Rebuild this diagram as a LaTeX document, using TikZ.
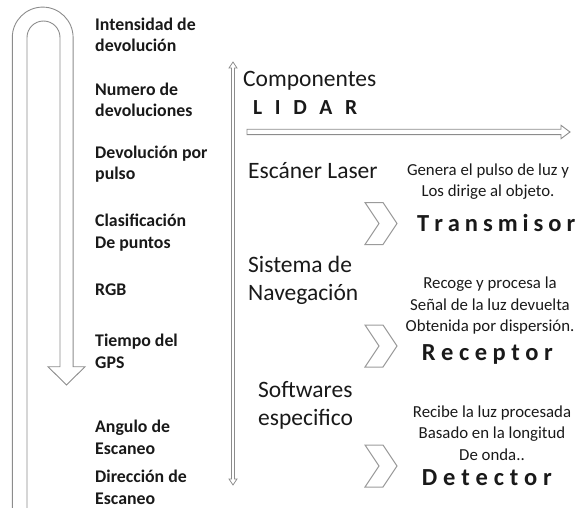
\documentclass[tikz,border=0pt]{standalone}
\usepackage{fontspec}
\setmainfont{Carlito}
\definecolor{arrowgray}{RGB}{140,140,140}
\definecolor{chevgray}{RGB}{155,155,155}
\definecolor{txt}{RGB}{25,25,25}
\tikzset{
  outline/.style={draw=arrowgray, line width=0.9pt, line join=miter},
  chevline/.style={draw=chevgray, line width=1pt, line join=miter},
  leftlbl/.style={font=\fontsize{17.8}{21.3}\selectfont\bfseries, align=left, anchor=base west, inner sep=0pt, text=txt},
  midlbl/.style={font=\fontsize{23.5}{28}\selectfont, align=left, anchor=base west, inner sep=0pt, text=txt},
  desc/.style={font=\fontsize{16.8}{21.5}\selectfont, align=center, anchor=base, inner sep=0pt, text=txt},
  bigbold/.style={font=\fontsize{24.5}{28}\selectfont\bfseries, anchor=base west, inner sep=0pt, text=txt},
  pics/chevron/.style={code={
    \draw[chevline] (-16,21) -- (2,21) -- (16,0) -- (2,-21) -- (-16,-21) -- (-2,0) -- cycle;}}
}
\begin{document}
\begin{tikzpicture}[x=1pt,y=1pt]
\useasboundingbox (0,0) rectangle (578,507);
\begin{scope}
\clip (0,0) rectangle (578,507);
% U-turn arrow
\draw[outline] (12.3,-10) -- (12.3,469.5) arc[start angle=180,end angle=0,radius=30.4]
  -- (73.1,140.3) -- (85,140.3) -- (66.5,122) -- (48,140.3) -- (60,140.3)
  -- (60,469.5) arc[start angle=0,end angle=180,radius=16.5] -- (27,-10);
\end{scope}
% vertical double arrow
\draw[outline, line width=0.8pt] (231.5,28) -- (231.5,439) -- (229,439) -- (233,445) -- (237,439) -- (234.5,439)
  -- (234.5,28) -- (237,28) -- (233,22) -- (229,28) -- cycle;
% horizontal arrow
\draw[outline] (247,377.7) -- (561,377.7) -- (561,381.7) -- (570,375) -- (561,368.3) -- (561,372.3) -- (247,372.3) -- cycle;
% chevrons
\pic at (381,283.5) {chevron};
\pic at (381,161) {chevron};
\pic at (381,41) {chevron};
% left column (anchor = baseline of last line)
\node[leftlbl] (l1) at (95,455.3) {Intensidad de\\devolución};
\node[leftlbl] (l2) at (95,390.3) {Numero de\\devoluciones};
\node[leftlbl] (l3) at (95,327) {Devolución por\\pulso};
\node[leftlbl] (l4) at (95,259) {Clasificación\\De puntos};
\node[leftlbl] (l5) at (95,212) {RGB};
\node[leftlbl] (l6) at (95,139) {Tiempo del\\GPS};
\node[leftlbl] (l7) at (95,53) {Angulo de\\Escaneo};
\node[leftlbl] (l8) at (95,3) {Dirección de\\Escaneo};
% header
\node[midlbl] (comp) at (243,420.3) {Componentes};
\node[bigbold, font=\fontsize{21.5}{24}\selectfont\bfseries] (lidar) at (253,392) {\makebox[104pt][s]{L\hfill I\hfill D\hfill A\hfill R}};
% middle labels
\node[midlbl] (esc) at (248,329) {Escáner Laser};
\node[midlbl] (sis) at (248,207) {Sistema de\\Navegación};
\node[midlbl] (sof) at (258,82) {Softwares\\especifico};
% descriptions
\node[desc] (d1) at (488,310.3) {Genera el pulso de luz y\\Los dirige al objeto.};
\node[desc] (d2) at (490,175.3) {Recoge y procesa la\\Señal de la luz devuelta\\Obtenida por dispersión.};
\node[desc] (d3) at (492,47) {Recibe la luz procesada\\Basado en la longitud\\De onda..};
% component names
\node[bigbold] (tr) at (417,275.3) {\makebox[158pt][s]{T\hfill r\hfill a\hfill n\hfill s\hfill m\hfill i\hfill s\hfill o\hfill r}};
\node[bigbold] (re) at (421.7,147) {\makebox[131pt][s]{R\hfill e\hfill c\hfill e\hfill p\hfill t\hfill o\hfill r}};
\node[bigbold] (de) at (421.7,22) {\makebox[130pt][s]{D\hfill e\hfill t\hfill e\hfill c\hfill t\hfill o\hfill r}};
\end{tikzpicture}
\end{document}
